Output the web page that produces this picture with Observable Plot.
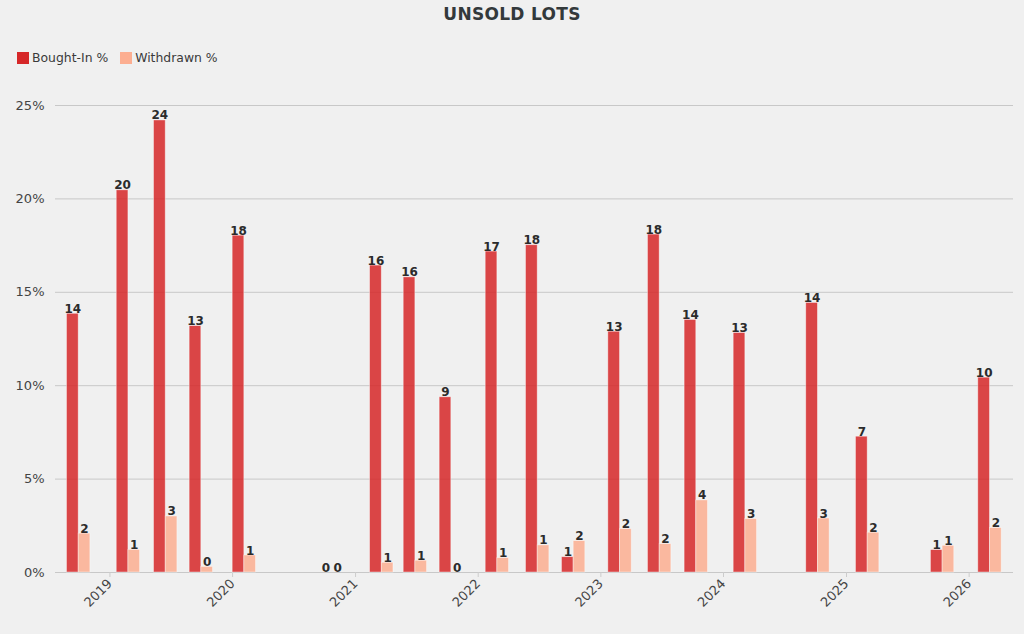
<!DOCTYPE html>
<html>
<head>
<meta charset="utf-8">
<script src="https://cdn.jsdelivr.net/npm/d3@7"></script>
<script src="https://cdn.jsdelivr.net/npm/@observablehq/plot@0.6"></script>
<style>
  html, body { margin: 0; padding: 0; background: #f0f0f0; }
  body { width: 1024px; height: 634px; position: relative; overflow: hidden; font-family: "DejaVu Sans", sans-serif; }
  #title { position: absolute; top: 4px; left: 0; width: 1024px; text-align: center; font-weight: bold; font-size: 17px; color: #33393b; letter-spacing: 0.3px; }
  #legend { position: absolute; top: 50px; left: 17px; display: flex; align-items: center; font-size: 12.4px; color: #3a3a3a; }
  .item { display: flex; align-items: center; margin-right: 12px; }
  .sw { width: 12px; height: 12px; margin-right: 3px; box-sizing: border-box; }
  #chart { position: absolute; top: 70px; left: 0; }
</style>
</head>
<body>
<div id="title">UNSOLD LOTS</div>
<div id="legend"></div>
<div id="chart"></div>
<script>
// Auction dates (approximate)
const dates = [
  "2018-09-30", "2019-02-25", "2019-06-16", "2019-09-30", "2020-02-05",
  "2020-10-22", "2021-03-20", "2021-06-28", "2021-10-13", "2022-02-27",
  "2022-06-27", "2022-10-12", "2023-02-27", "2023-06-25", "2023-10-12",
  "2024-03-06", "2024-10-08", "2025-03-05", "2025-10-14", "2026-03-04"
];
const boughtIn = [
  13.85, 20.46, 24.2, 13.19, 18.03,
  0, 16.43, 15.8, 9.38, 17.18,
  17.52, 0.82, 12.89, 18.09, 13.52,
  12.82, 14.43, 7.27, 1.2, 10.43
];
const withdrawn = [
  2.08, 1.21, 3.0, 0.3, 0.91,
  0, 0.52, 0.63, 0, 0.77,
  1.45, 1.68, 2.32, 1.52, 3.86,
  2.86, 2.89, 2.13, 1.43, 2.38
];
const seriesNames = ["Bought-In %", "Withdrawn %"];
const seriesColors = ["#d62728", "#fcae91"];
const yTicks = [0, 5, 10, 15, 20, 25];
const xTickYears = [2019, 2020, 2021, 2022, 2023, 2024, 2025, 2026];

const DAY = 24 * 3600 * 1000;
const barDays = 34.8;

const rows = [];
dates.forEach((d, i) => {
  const t = new Date(d + "T00:00:00Z");
  rows.push({series: seriesNames[0], x1: new Date(+t - barDays * DAY), x2: t, xm: new Date(+t - barDays / 2 * DAY), v: boughtIn[i]});
  rows.push({series: seriesNames[1], x1: t, x2: new Date(+t + barDays * DAY), xm: new Date(+t + barDays / 2 * DAY), v: withdrawn[i]});
});

// legend
const legend = document.getElementById("legend");
seriesNames.forEach((n, i) => {
  const it = document.createElement("div");
  it.className = "item";
  const sw = document.createElement("div");
  sw.className = "sw";
  sw.style.background = seriesColors[i];
  it.appendChild(sw);
  const tx = document.createElement("span");
  tx.textContent = n;
  it.appendChild(tx);
  legend.appendChild(it);
});

const xTicks = xTickYears.map(y => new Date(Date.UTC(y, 0, 1)));

const chart = Plot.plot({
  width: 1024,
  height: 564,
  marginTop: 35,
  marginBottom: 62,
  marginLeft: 55,
  marginRight: 11,
  style: {background: "transparent", fontFamily: "DejaVu Sans, sans-serif", fontSize: "13px", color: "#444"},
  x: {type: "utc", domain: [new Date("2018-07-23T00:00:00Z"), new Date("2026-05-13T00:00:00Z")]},
  y: {domain: [0, 25]},
  color: {domain: seriesNames, range: seriesColors},
  marks: [
    Plot.gridY(yTicks, {stroke: "#c8c8c8", strokeOpacity: 1, strokeWidth: 1}),
    Plot.axisY({ticks: yTicks, tickSize: 0, tickPadding: 11, tickFormat: d => d + "%", label: null, fill: "#444", fontSize: 13}),
    Plot.axisX({ticks: xTicks, tickFormat: d3.utcFormat("%Y"), tickRotate: -45, tickSize: 5, tickPadding: 4, stroke: "#ccc", label: null, fill: "#444", fontSize: 13}),
    Plot.rectY(rows, {x1: "x1", x2: "x2", y: "v", fill: "series", fillOpacity: 0.85, stroke: "#ffffff", strokeOpacity: 0.5, strokeWidth: 0.8}),
    Plot.text(rows, {x: "xm", y: "v", text: d => String(Math.round(d.v)), lineAnchor: "bottom", dy: -1, fontWeight: "bold", fontSize: 12, fill: "#2b2b2b"})
  ]
});
document.getElementById("chart").appendChild(chart);
</script>
</body>
</html>
